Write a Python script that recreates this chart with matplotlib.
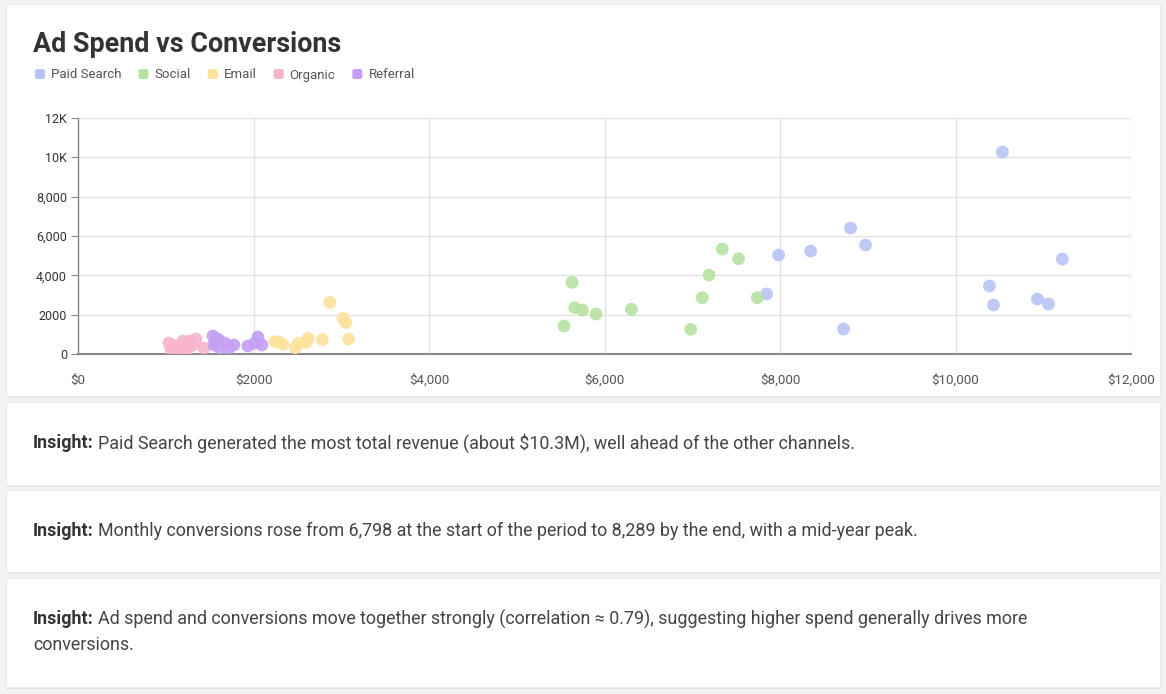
import matplotlib.pyplot as plt
from matplotlib.patches import FancyBboxPatch
import numpy as np

plt.rcParams['font.family'] = ['Roboto', 'DejaVu Sans']

# data (ad spend $, conversions)
channels = ["Paid Search", "Social", "Email", "Organic", "Referral"]
colors = ["#b8c3f6", "#b6e3a2", "#fce29d", "#f8b5cd", "#c49ff4"]

paid_spend = [10535, 8804, 8975, 8349, 7984, 7847, 8724, 10387, 10433, 10934, 11059, 11218]
paid_conv = [10270, 6406, 5541, 5236, 5033, 3050, 1271, 3457, 2491, 2796, 2542, 4830]

social_spend = [5630, 5661, 5748, 5903, 6306, 5539, 6982, 7114, 7191, 7342, 7528, 7741]
social_conv = [3645, 2355, 2237, 2034, 2271, 1423, 1254, 2864, 4016, 5338, 4846, 2864]

email_spend = [2870, 3022, 3052, 3083, 2783, 2623, 2597, 2510, 2475, 2293, 2338, 2244]
email_conv = [2627, 1813, 1593, 763, 729, 797, 593, 542, 322, 593, 491, 627]

organic_spend = [1036, 1059, 1196, 1241, 1264, 1344, 1435, 1150, 1219, 1105, 1310, 1276]
organic_conv = [559, 254, 661, 203, 407, 763, 305, 305, 102, 407, 458, 661]

referral_spend = [1538, 1595, 1549, 1617, 1674, 1720, 1777, 1572, 1936, 2050, 2096, 2016]
referral_conv = [915, 763, 458, 305, 559, 305, 458, 610, 407, 864, 458, 559]

spend = [paid_spend, social_spend, email_spend, organic_spend, referral_spend]
conv = [paid_conv, social_conv, email_conv, organic_conv, referral_conv]

x_ticks = [0, 2000, 4000, 6000, 8000, 10000, 12000]
x_labels = ["$0", "$2000", "$4,000", "$6,000", "$8,000", "$10,000", "$12,000"]
y_ticks = [0, 2000, 4000, 6000, 8000, 10000, 12000]
y_labels = ["0", "2000", "4,000", "6,000", "8,000", "10K", "12K"]

insights = [
    ["Paid Search generated the most total revenue (about $10.3M), well ahead of the other channels."],
    ["Monthly conversions rose from 6,798 at the start of the period to 8,289 by the end, with a mid-year peak."],
    ["Ad spend and conversions move together strongly (correlation \u2248 0.79), suggesting higher spend generally drives more",
     "conversions."],
]

W, H = 1166, 694
fig = plt.figure(figsize=(W / 100, H / 100), dpi=100)
fig.patch.set_facecolor("#f2f2f2")


def fx(px):
    return px / W


def fy(py):
    return 1 - py / H


def card(x0, y0, x1, y1):
    # soft shadow then white card
    sh = FancyBboxPatch((fx(x0), fy(y1 + 2)), fx(x1 - x0), (y1 - y0) / H,
                        boxstyle="square,pad=0", transform=fig.transFigure,
                        facecolor="#e4e4e4", edgecolor="none", zorder=-3)
    c = FancyBboxPatch((fx(x0), fy(y1)), fx(x1 - x0), (y1 - y0) / H,
                       boxstyle="square,pad=0", transform=fig.transFigure,
                       facecolor="white", edgecolor="#ececec", linewidth=0.8, zorder=-2)
    fig.patches.extend([sh, c])


card(6, 4, 1160, 396)
card(6, 402, 1160, 485)
card(6, 490, 1160, 572)
card(6, 578, 1160, 687)

fig.text(fx(33), fy(44), "Ad Spend vs Conversions", fontsize=19.4, fontweight="bold",
         color="#333333", va="center", ha="left")

# legend row
fig.canvas.draw()
renderer = fig.canvas.get_renderer()
cur = 35
for name, col in zip(channels, colors):
    sq = FancyBboxPatch((fx(cur), fy(79)), fx(10), 10 / H,
                        boxstyle="round,pad=0,rounding_size=0.0025",
                        transform=fig.transFigure, facecolor=col, edgecolor="none", zorder=2)
    fig.patches.append(sq)
    t = fig.text(fx(cur + 16), fy(78.5), name, fontsize=9.5, color="#555555",
                 va="baseline", ha="left")
    bb = t.get_window_extent(renderer)
    cur = bb.x1 + 17

ax = fig.add_axes([fx(78), fy(354), fx(1131 - 78), (354 - 118) / H])
ax.set_facecolor("white")
for name, col, xs, ys in zip(channels, colors, spend, conv):
    ax.scatter(xs, ys, s=85, color=col, edgecolors="none", alpha=0.9, zorder=3, label=name)

ax.set_xlim(0, 12000)
ax.set_ylim(0, 12000)
ax.set_xticks(x_ticks, x_labels)
ax.set_yticks(y_ticks, y_labels)
ax.grid(True, color="#e2e2e2", linewidth=1, zorder=0)
ax.set_axisbelow(True)
for s in ["top", "right"]:
    ax.spines[s].set_visible(False)
ax.spines["left"].set_color("#8a8a8a")
ax.spines["left"].set_linewidth(1)
ax.spines["bottom"].set_color("#8a8a8a")
ax.spines["bottom"].set_linewidth(1.5)
ax.tick_params(axis="x", length=0, pad=14, labelsize=9.6, labelcolor="#555555")
ax.tick_params(axis="y", length=5, width=0.8, color="#8a8a8a", pad=3, labelsize=9,
               labelcolor="#333333")

# insight cards
ys_ins = [443, 531, 619]
for y, lines in zip(ys_ins, insights):
    b = fig.text(fx(33), fy(y), "Insight:", fontsize=12.9, fontweight="bold",
                 color="#333333", va="center", ha="left")
    bb = b.get_window_extent(renderer)
    fig.text(bb.x1 / W + fx(4.5), fy(y), lines[0], fontsize=12.9, color="#444444",
             va="center", ha="left")
    for i, extra in enumerate(lines[1:], start=1):
        fig.text(fx(33), fy(y + 26 * i), extra, fontsize=12.9, color="#444444",
                 va="center", ha="left")

fig.savefig("out.png", dpi=100, facecolor=fig.get_facecolor())
